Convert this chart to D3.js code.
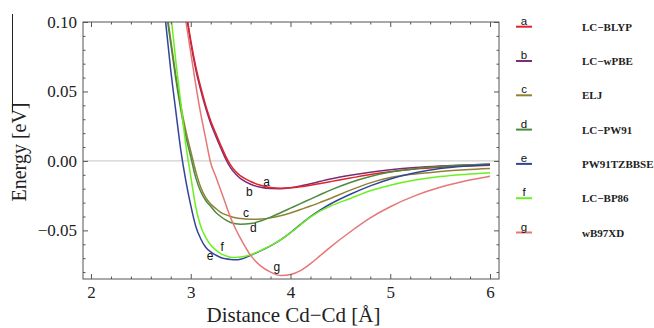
<!DOCTYPE html>
<html>
<head>
<meta charset="utf-8">
<script src="https://cdn.jsdelivr.net/npm/d3@7"></script>
<style>
  html, body { margin: 0; padding: 0; background: #fff; }
  svg { display: block; }
</style>
</head>
<body>
<svg id="chart" width="654" height="328"></svg>
<script>
// distances (Å) shared by all curves
const distances = [2.70, 2.75, 2.80, 2.85, 2.90, 2.95, 3.00, 3.05, 3.10, 3.15, 3.20, 3.25, 3.30, 3.35, 3.40,
  3.45, 3.50, 3.60, 3.70, 3.80, 3.90, 4.00, 4.10, 4.20, 4.30, 4.40, 4.60, 4.80, 5.00, 5.25, 5.50, 5.75, 6.00];

// energies (eV), null = far above the plot
const lcBlyp = [null, null, null, null, 0.14, 0.11, 0.087, 0.068, 0.053, 0.040, 0.029, 0.020, 0.0115, 0.0035, -0.003,
  -0.0077, -0.0108, -0.0148, -0.0175, -0.0192, -0.0197, -0.0194, -0.0186, -0.0175, -0.0162, -0.0149, -0.0123,
  -0.0098, -0.0078, -0.0059, -0.0046, -0.0037, -0.0031];
const lcWpbe = [null, null, null, null, 0.14, 0.108, 0.085, 0.066, 0.051, 0.038, 0.027, 0.018, 0.0095, 0.0015, -0.005,
  -0.0095, -0.0128, -0.0168, -0.019, -0.0199, -0.020, -0.0193, -0.0181, -0.0165, -0.0147, -0.013, -0.0103,
  -0.0081, -0.0064, -0.0048, -0.0037, -0.0029, -0.0024];
const elj = [0.145, 0.113, 0.087, 0.062, 0.040, 0.022, 0.007, -0.0075, -0.019, -0.0265, -0.031, -0.0342, -0.037,
  -0.0387, -0.040, -0.0409, -0.0415, -0.042, -0.0418, -0.041, -0.0395, -0.0375, -0.035, -0.0325, -0.0298, -0.027,
  -0.021, -0.0158, -0.012, -0.0094, -0.0077, -0.0064, -0.0055];
const lcPw91 = [0.145, 0.111, 0.084, 0.059, 0.037, 0.018, 0.003, -0.012, -0.022, -0.0285, -0.0327, -0.037, -0.040,
  -0.0425, -0.0443, -0.0453, -0.0456, -0.0451, -0.0433, -0.0405, -0.0373, -0.034, -0.0307, -0.0275, -0.0242, -0.021,
  -0.0155, -0.0112, -0.008, -0.0056, -0.0041, -0.0031, -0.0023];
const pw91Tzbbse = [0.135, 0.099, 0.065, 0.036, 0.008, -0.014, -0.032, -0.047, -0.056, -0.0622, -0.0655, -0.0677,
  -0.0695, -0.0705, -0.0710, -0.0712, -0.0708, -0.068, -0.0648, -0.0612, -0.0569, -0.0516, -0.0457, -0.0401,
  -0.0352, -0.031, -0.024, -0.018, -0.013, -0.0085, -0.0055, -0.0038, -0.0027];
const lcBp86 = [null, 0.142, 0.106, 0.072, 0.042, 0.012, -0.011, -0.033, -0.047, -0.055, -0.0605, -0.064, -0.0667,
  -0.0683, -0.0693, -0.0695, -0.0692, -0.0675, -0.0645, -0.061, -0.0568, -0.0518, -0.046, -0.0405, -0.036, -0.0325,
  -0.027, -0.0215, -0.0175, -0.0138, -0.0113, -0.0097, -0.0085];
const wb97xd = [null, null, null, null, 0.125, 0.101, 0.078, 0.055, 0.034, 0.016, -0.0015, -0.011, -0.021, -0.031,
  -0.041, -0.049, -0.056, -0.068, -0.0755, -0.080, -0.0825, -0.0818, -0.079, -0.074, -0.068, -0.062, -0.051,
  -0.041, -0.033, -0.025, -0.019, -0.0145, -0.011];

const letters = ['a', 'b', 'c', 'd', 'e', 'f', 'g'];
const methods = ['LC\u2212BLYP', 'LC\u2212wPBE', 'ELJ', 'LC\u2212PW91', 'PW91TZBBSE', 'LC\u2212BP86', 'wB97XD'];
const energies = [lcBlyp, lcWpbe, elj, lcPw91, pw91Tzbbse, lcBp86, wb97xd];
const colors = ['#e0232c', '#7b2d74', '#8f8235', '#4b8a3e', '#33449b', '#6cf020', '#e57777'];
// letter annotations next to the curves, [distance, energy]
const letterAt = [[3.76, -0.0149], [3.587, -0.0221], [3.554, -0.0372], [3.627, -0.0484],
  [3.193, -0.0683], [3.316, -0.0617], [3.862, -0.0765]];

const xMajor = [2, 3, 4, 5, 6];
const yMajor = [-0.05, 0, 0.05, 0.10];

const serif = "'Liberation Serif', 'Times New Roman', serif";
const sans = "'Liberation Sans', Arial, sans-serif";

const svg = d3.select('#chart');
const margin = { top: 22, right: 155, bottom: 49, left: 83 };
const W = 654, H = 328;
const x = d3.scaleLinear().domain([1.92, 6.09]).range([margin.left, W - margin.right]);
const y = d3.scaleLinear().domain([-0.085, 0.10]).range([H - margin.bottom, margin.top]);

const xMinor = d3.range(2, 6.001, 0.2).filter((v) => !xMajor.some((m) => Math.abs(m - v) < 1e-6));
const yMinor = d3.range(-0.08, 0.1001, 0.01).filter((v) => !yMajor.some((m) => Math.abs(m - v) < 1e-6));

svg.append('clipPath').attr('id', 'plot')
  .append('rect')
  .attr('x', x.range()[0]).attr('y', y.range()[1])
  .attr('width', x.range()[1] - x.range()[0])
  .attr('height', y.range()[0] - y.range()[1]);

// zero line
svg.append('line')
  .attr('x1', x.range()[0]).attr('x2', x.range()[1])
  .attr('y1', y(0)).attr('y2', y(0))
  .attr('stroke', '#c4c4c4').attr('stroke-width', 1);

const line = d3.line()
  .defined((d) => d[1] !== null)
  .x((d) => x(d[0]))
  .y((d) => y(d[1]))
  .curve(d3.curveMonotoneX);

const curves = svg.append('g').attr('clip-path', 'url(#plot)');
[1, 0, 2, 3, 4, 5, 6].forEach((i) => {
  curves.append('path')
    .datum(distances.map((dist, k) => [dist, energies[i][k]]))
    .attr('d', line)
    .attr('fill', 'none')
    .attr('stroke', colors[i])
    .attr('stroke-width', 1.5);
});

// frame ticks, pointing inward
const fmtY = (d) => d3.format('.2f')(d).replace('-', '\u2212');
const addAxis = (axis, tx, ty, labels) => {
  const g = svg.append('g').attr('transform', `translate(${tx},${ty})`).call(axis);
  g.select('.domain').remove();
  g.selectAll('.tick line').attr('stroke', '#555');
  if (labels) {
    g.selectAll('.tick text')
      .style('font-family', serif)
      .style('font-size', '17px')
      .attr('fill', '#222');
  } else {
    g.selectAll('.tick text').remove();
  }
  return g;
};
const xb = y.range()[0], xt = y.range()[1], yl = x.range()[0], yr = x.range()[1];
addAxis(d3.axisBottom(x).tickValues(xMajor).tickSize(-5).tickPadding(7).tickFormat(d3.format('d')), 0, xb, true);
addAxis(d3.axisBottom(x).tickValues(xMinor).tickSize(-2.5), 0, xb, false);
addAxis(d3.axisTop(x).tickValues(xMajor).tickSize(-5), 0, xt, false);
addAxis(d3.axisTop(x).tickValues(xMinor).tickSize(-2.5), 0, xt, false);
addAxis(d3.axisLeft(y).tickValues(yMajor).tickSize(-5).tickPadding(6).tickFormat(fmtY), yl, 0, true);
addAxis(d3.axisLeft(y).tickValues(yMinor).tickSize(-2.5), yl, 0, false);
addAxis(d3.axisRight(y).tickValues(yMajor).tickSize(-5), yr, 0, false);
addAxis(d3.axisRight(y).tickValues(yMinor).tickSize(-2.5), yr, 0, false);

svg.append('rect')
  .attr('x', yl).attr('y', xt)
  .attr('width', yr - yl).attr('height', xb - xt)
  .attr('fill', 'none').attr('stroke', '#555').attr('stroke-width', 1);

// curve letters
svg.append('g').selectAll('text')
  .data(letters)
  .join('text')
  .attr('x', (d, i) => x(letterAt[i][0]))
  .attr('y', (d, i) => y(letterAt[i][1]))
  .attr('text-anchor', 'middle')
  .attr('dominant-baseline', 'central')
  .style('font-family', sans)
  .style('font-size', '12px')
  .attr('fill', '#111')
  .text((d) => d);

// axis titles
svg.append('text')
  .attr('x', (x(2) + x(6)) / 2 + 3).attr('y', 322)
  .attr('text-anchor', 'middle')
  .style('font-family', serif)
  .style('font-size', '21px')
  .attr('fill', '#222')
  .text('Distance Cd\u2212Cd [\u00c5]');

svg.append('text')
  .attr('transform', 'translate(26,152) rotate(-90)')
  .attr('text-anchor', 'middle')
  .style('font-family', serif)
  .style('font-size', '20px')
  .attr('fill', '#222')
  .text('Energy [eV]');
svg.append('line')
  .attr('x1', 12.5).attr('x2', 12.5).attr('y1', 14).attr('y2', 112)
  .attr('stroke', '#222').attr('stroke-width', 1);

// legend
const legend = svg.append('g').selectAll('g')
  .data(methods)
  .join('g')
  .attr('transform', (d, i) => `translate(0,${26.7 + i * 34.3})`);
legend.append('line')
  .attr('x1', 516).attr('x2', 532).attr('y1', 0).attr('y2', 0)
  .attr('stroke', (d, i) => colors[i]).attr('stroke-width', 2);
legend.append('text')
  .attr('x', 524).attr('y', -2)
  .attr('text-anchor', 'middle')
  .style('font-family', sans)
  .style('font-size', '11.5px')
  .attr('fill', '#111')
  .text((d, i) => letters[i]);
legend.append('text')
  .attr('x', 582).attr('y', 0)
  .attr('dominant-baseline', 'central')
  .style('font-family', serif)
  .style('font-size', '11px')
  .style('font-weight', 'bold')
  .attr('fill', '#222')
  .text((d) => d);
</script>
</body>
</html>
